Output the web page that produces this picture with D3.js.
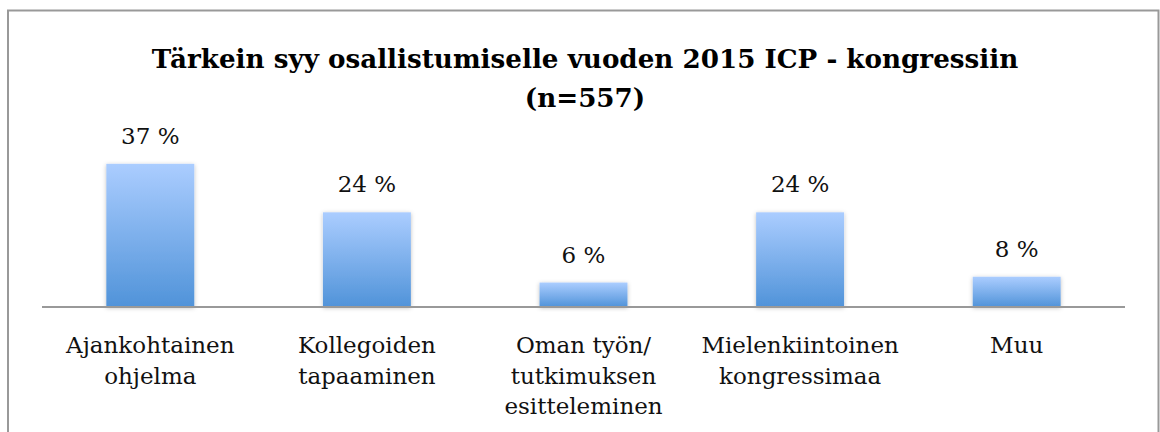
<!DOCTYPE html>
<html>
<head>
<meta charset="utf-8">
<script src="https://cdn.jsdelivr.net/npm/d3@7"></script>
<style>
  html, body { margin: 0; padding: 0; background: #fff; }
  svg { display: block; }
  .title { font-family: 'DejaVu Serif', serif; font-weight: bold; font-size: 26.2px; fill: #000; }
  .val { font-family: 'DejaVu Serif', serif; font-size: 23px; fill: #111; }
  .axis text { font-family: 'DejaVu Serif', serif; font-size: 23px; fill: #111; }
</style>
</head>
<body>
<div id="chart"></div>
<script>
// chart data
const titleLines = ['Tärkein syy osallistumiselle vuoden 2015 ICP - kongressiin', '(n=557)'];
const categories = ['Ajankohtainen ohjelma', 'Kollegoiden tapaaminen', 'Oman työn/ tutkimuksen esitteleminen', 'Mielenkiintoinen kongressimaa', 'Muu'];
const categoryLines = [
  ['Ajankohtainen', 'ohjelma'],
  ['Kollegoiden', 'tapaaminen'],
  ['Oman työn/', 'tutkimuksen', 'esitteleminen'],
  ['Mielenkiintoinen', 'kongressimaa'],
  ['Muu']
];
const values = [36.9, 24.4, 6.3, 24.4, 7.8];

const width = 1160, height = 432;
const margin = { top: 151.8, bottom: 125, left: 42, right: 35 };
const baseY = height - margin.bottom; // 307

const svg = d3.select('#chart').append('svg')
  .attr('width', width)
  .attr('height', height);

const defs = svg.append('defs');
const grad = defs.append('linearGradient')
  .attr('id', 'barGrad')
  .attr('x1', 0).attr('y1', 0).attr('x2', 0).attr('y2', 1);
grad.append('stop').attr('offset', '0%').attr('stop-color', '#abcdff');
grad.append('stop').attr('offset', '100%').attr('stop-color', '#5093d9');

const shadow = defs.append('filter').attr('id', 'shadow')
  .attr('x', '-20%').attr('y', '-20%').attr('width', '140%').attr('height', '140%');
shadow.append('feDropShadow')
  .attr('dx', 0).attr('dy', 1).attr('stdDeviation', 2)
  .attr('flood-color', '#000').attr('flood-opacity', 0.25);

// outer frame
svg.append('rect')
  .attr('x', 8).attr('y', 10.5)
  .attr('width', 1150.5).attr('height', 440)
  .attr('fill', 'none')
  .attr('stroke', '#999')
  .attr('stroke-width', 2);

// title
const title = svg.append('text')
  .attr('class', 'title')
  .attr('text-anchor', 'middle')
  .attr('x', 585)
  .attr('y', 68);
title.selectAll('tspan')
  .data(titleLines)
  .enter().append('tspan')
  .attr('x', 585)
  .attr('dy', (d, i) => i === 0 ? 0 : 39)
  .text(d => d);

const x = d3.scaleBand()
  .domain(categories)
  .range([margin.left, width - margin.right])
  .paddingInner(0.594)
  .paddingOuter(0.297);

const y = d3.scaleLinear()
  .domain([0, 40])
  .range([baseY, margin.top]);

// bars
svg.append('g')
  .selectAll('rect')
  .data(values)
  .enter().append('rect')
  .attr('x', (d, i) => x(categories[i]))
  .attr('y', d => y(d))
  .attr('width', x.bandwidth())
  .attr('height', d => baseY - y(d))
  .attr('fill', 'url(#barGrad)')
  .attr('filter', 'url(#shadow)');

// value labels
svg.append('g')
  .selectAll('text')
  .data(values)
  .enter().append('text')
  .attr('class', 'val')
  .attr('text-anchor', 'middle')
  .attr('x', (d, i) => x(categories[i]) + x.bandwidth() / 2)
  .attr('y', d => y(d) - 20)
  .text(d => Math.round(d) + ' %');

// x axis
const xAxis = svg.append('g')
  .attr('class', 'axis')
  .attr('transform', 'translate(0,' + baseY + ')')
  .call(d3.axisBottom(x).tickSize(0).tickPadding(0));

xAxis.select('.domain')
  .attr('stroke', '#999')
  .attr('stroke-width', 2)
  .attr('d', 'M' + margin.left + ',0H' + (width - margin.right));

xAxis.selectAll('.tick text')
  .attr('y', 0)
  .attr('dy', null)
  .each(function(d, i) {
    const t = d3.select(this);
    t.text(null);
    categoryLines[i].forEach((line, j) => {
      t.append('tspan')
        .attr('x', 0)
        .attr('y', 46 + j * 30.5)
        .text(line);
    });
  });
</script>
</body>
</html>
